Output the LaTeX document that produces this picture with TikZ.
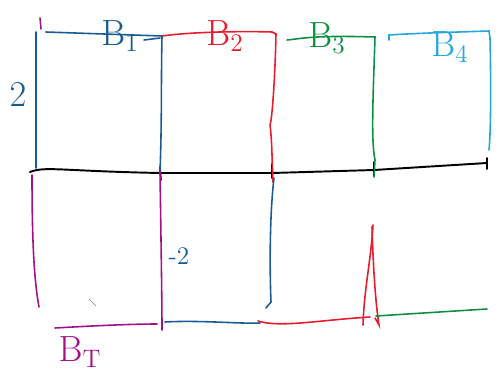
\documentclass[tikz,border=0pt]{standalone}
\usepackage{xcolor}
\usepackage{amsmath}
\usepackage{tikz}
\definecolor{bdark}{RGB}{25,90,150}
\definecolor{bred}{RGB}{232,28,45}
\definecolor{bgreen}{RGB}{10,145,65}
\definecolor{blight}{RGB}{35,165,225}
\definecolor{bmag}{RGB}{165,15,140}
\tikzset{>=stealth}

\begin{document}
\begin{tikzpicture}[x=0.02cm,y=-0.02cm,line width=0.9pt,line cap=round]
    \useasboundingbox (0,0) rectangle (498,382);
    % axis
      \draw[black,line width=1.1pt] (30,172) .. controls (45,166) and (60,171) .. (160,173) -- (272,173) -- (374,170) -- (487,163);
      \draw[black] (160,167)--(161,180);
      \draw[black] (272,164)--(272,178);
      \draw[black] (374,162)--(374,176);
      \draw[black] (487,158)--(487,169);
    % upper blocks
      \draw[bmag] (40,18)--(41,29);
      \draw[bdark] (36,32)--(36,168);
      \draw[bdark] (46,32)--(162,36);
      \draw[bdark] (144,40)--(160,38);
      \draw[bdark] (162,37) .. controls (161,80) and (162,120) .. (160,172);
      \draw[bred] (162,36) .. controls (190,32) and (240,31) .. (272,32) -- (276,34);
      \draw[bred] (276,34) .. controls (275,80) and (272,120) .. (270,125) .. controls (272,140) and (272,160) .. (273,182);
      \draw[bgreen] (287,40) .. controls (300,39) and (310,35) .. (375,37) .. controls (373,100) and (371,140) .. (375,160) -- (374,177);
      \draw[blight] (389,40)--(389,35) .. controls (420,33) and (460,32) .. (489,31) -- (490,38) .. controls (491,80) and (491,130) .. (489,150);
    % lower blocks
      \draw[bmag] (32,175) .. controls (32,240) and (34,280) .. (39,307);
      \draw[bmag] (160,172) .. controls (161,240) and (162,300) .. (162,330);
      \draw[bmag] (55,328) .. controls (90,326) and (130,324) .. (157,324);
      \draw[bdark] (274,178) .. controls (269,220) and (270,280) .. (271,302) -- (266,308);
      \draw[bdark] (165,322) .. controls (200,320) and (240,324) .. (260,323);
      \draw[bred] (258,321) .. controls (280,328) and (320,320) .. (370,317);
      \draw[bred] (373,225) .. controls (371,260) and (364,290) .. (363,325);
      \draw[bred] (372,227) .. controls (373,260) and (375,300) .. (379,325) -- (375,318);
      \draw[bgreen] (376,316) -- (487,309);
      \draw[gray,line width=0.4pt] (89,299)--(96,306);
    % labels
    \node[bdark] at (120,36)   (b1) {\huge$\mathrm{B}_{\mathrm{1}}$};
    \node[bred] at (225,36)   (b2) {\huge$\mathrm{B}_{\mathrm{2}}$};
    \node[bgreen] at (327,38)   (b3) {\huge$\mathrm{B}_{\mathrm{3}}$};
    \node[blight] at (450,47)   (b4) {\huge$\mathrm{B}_{\mathrm{4}}$};
    \node[bdark] at (18,95)   (h1) {\huge$2$};
    \node[bdark] at (179,256)   (h2) {\Large$\text{-}2$};
    \node[bmag] at (80,352)   (bt) {\huge$\mathrm{B}_{\mathrm{T}}$};
\end{tikzpicture}
\end{document}
